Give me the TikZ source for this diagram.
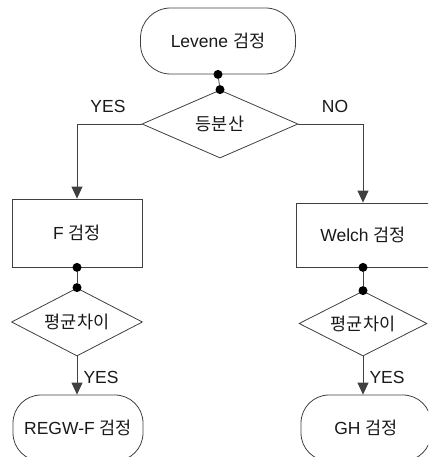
\documentclass[tikz,border=0pt]{standalone}
\usepackage{fontspec}
\setmainfont{Liberation Sans}
\newfontfamily\kr{Noto Sans CJK KR}
\usetikzlibrary{shapes.geometric,arrows.meta}
\tikzset{
  ln/.style={draw=black!75, line width=0.8pt},
  txt/.style={font=\fontsize{17.5}{20}\selectfont, text=black!90},
  term/.style={ln, txt, rectangle, rounded corners=30pt, inner sep=0pt},
  proc/.style={ln, txt, rectangle, inner sep=0pt},
  dec/.style={ln, txt, diamond, aspect=2, inner sep=0pt},
  dot/.style={circle, fill=black, draw=none, minimum size=9pt, inner sep=0pt},
  lbl/.style={txt},
  arr/.style={ln, -{Triangle[length=12pt,width=11pt]}},
}
\begin{document}
\begin{tikzpicture}[x=1pt,y=-1pt]
\useasboundingbox (0,0) rectangle (428,457);
\clip (0,0) rectangle (428,457);
% nodes
\node[term, minimum width=155pt, minimum height=66pt] (lev) at (218,41) {Levene {\kr 검정}};
\node[dec, minimum width=156pt, minimum height=68pt] (dsq) at (220,124) {\kr 등분산};
\node[proc, minimum width=130pt, minimum height=68pt] (fbox) at (77,233) {F {\kr 검정}};
\node[proc, minimum width=134pt, minimum height=64pt] (wbox) at (363,235) {Welch {\kr 검정}};
\node[dec, minimum width=131pt, minimum height=68pt] (dl) at (77,322) {\kr 평균차이};
\node[dec, minimum width=128pt, minimum height=65pt] (dr) at (363,323.5) {\kr 평균차이};
\node[term, rounded corners=28pt, minimum width=130pt, minimum height=66pt] (regw) at (78,428) {REGW-F {\kr 검정}};
\node[term, rounded corners=28pt, minimum width=130pt, minimum height=66pt] (gh) at (366,428) {GH {\kr 검정}};
% labels
\node[lbl] (yes1) at (108,106) {YES};
\node[lbl] (no1) at (335,106) {NO};
\node[lbl, anchor=west] (yes2) at (80,377) {YES};
\node[lbl, anchor=west] (yes3) at (366,377) {YES};
% dots
\node[dot] (d1) at (lev.south) {};
\node[dot] (d2) at (dsq.north) {};
\node[dot] (d3) at (fbox.south) {};
\node[dot] (d4) at (dl.north) {};
\node[dot] (d5) at (wbox.south) {};
\node[dot] (d6) at (dr.north) {};
% connectors
\draw[ln] (d1) -- (d2);
\draw[ln] (d3) -- (d4);
\draw[ln] (d5) -- (d6);
\draw[arr] (dsq.west) -| (fbox.north);
\draw[arr] (dsq.east) -| (wbox.north);
\draw[arr] (dl.south) -- (dl.south |- regw.north);
\draw[arr] (dr.south) -- (dr.south |- gh.north);
\end{tikzpicture}
\end{document}
